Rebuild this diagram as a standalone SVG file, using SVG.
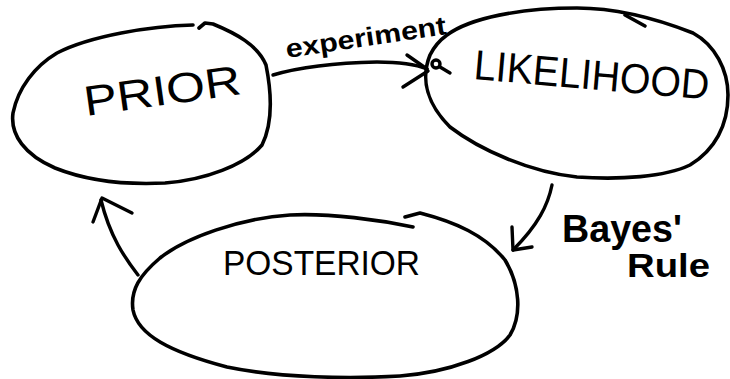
<svg xmlns="http://www.w3.org/2000/svg" width="730" height="379" viewBox="0 0 730 379">
<style>
.node{fill:none;stroke:#000;stroke-width:3.6;stroke-linecap:round;stroke-linejoin:round}
.edge{fill:none;stroke:#000;stroke-width:3.4;stroke-linecap:round;stroke-linejoin:round}
.lbl{font-family:"Liberation Sans","DejaVu Sans",sans-serif;fill:#000}
.hand{font-weight:bold}
</style>
<rect width="730" height="379" fill="#fff"/>
<g id="prior">
<path class="node" d="M193,25 C150,26 90,36 57,53 C35,66 18,88 13,113 C10,135 25,155 55,168 C85,180 125,185 165,183 C205,180 245,165 262,145 C272,125 272,95 266,65 C258,45 235,33 213,24 L205,23 L199,28"/>
<text class="lbl" style="font-size:42px" x="86" y="116" textLength="158" lengthAdjust="spacingAndGlyphs" transform="rotate(-8 86 116)">PRIOR</text>
</g>
<g id="likelihood">
<path class="node" d="M447,35 C470,18 520,8 577,8 C620,8 660,20 693,33 C715,45 728,70 728,95 C728,125 715,150 690,165 C665,177 620,180 577,177 C530,172 480,150 450,127 C428,105 420,80 430,55 C435,45 440,40 447,35"/>
<path class="node" d="M625,15 L645,26"/>
<text class="lbl" style="font-size:42px" x="473" y="79" textLength="236" lengthAdjust="spacingAndGlyphs" transform="rotate(5 473 79)">LIKELIHOOD</text>
</g>
<g id="posterior">
<path class="node" d="M413,227 C380,220 330,213 290,215 C240,218 185,238 160,258 C140,275 130,290 133,310 C138,335 170,352 227,367 C280,378 350,379 400,376 C450,372 495,355 510,335 C522,315 520,285 505,260 C485,235 455,222 420,213 L405,217"/>
<text class="lbl" style="font-size:35px" x="223" y="275" textLength="197" lengthAdjust="spacingAndGlyphs">POSTERIOR</text>
</g>
<g id="connectors">
<path class="edge" d="M273,75 C300,67 330,63 377,62 C400,62 415,64 427,69"/>
<path class="edge" d="M407,55 L427,69 M403,87 L428,71"/>
<circle class="edge" cx="436" cy="64" r="4"/>
<path class="edge" d="M440,67 L450,73"/>
<path class="edge" d="M552,185 C548,205 538,225 513,250"/>
<path class="edge" d="M512,227 L513,250 L532,247"/>
<path class="edge" d="M138,275 C125,258 110,237 101,200"/>
<path class="edge" d="M93,222 L102,198 L132,213"/>
<text class="lbl hand" x="287" y="58" style="font-size:26px" textLength="162" lengthAdjust="spacingAndGlyphs" transform="rotate(-8.5 287 58)">experiment</text>
<text class="lbl hand" style="font-size:38px" x="562" y="242" textLength="120" lengthAdjust="spacingAndGlyphs">Bayes'</text>
<text class="lbl hand" style="font-size:33px" x="627" y="277" textLength="83" lengthAdjust="spacingAndGlyphs">Rule</text>
</g>
</svg>
